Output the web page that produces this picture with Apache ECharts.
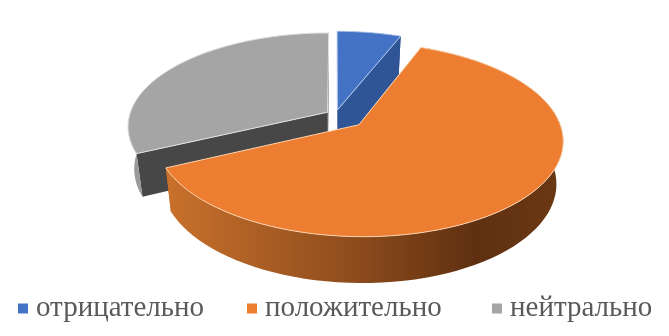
<!DOCTYPE html>
<html><head><meta charset="utf-8">
<style>html,body{margin:0;padding:0;background:#fff}#c{width:669px;height:336px}</style>
<script src="https://cdn.jsdelivr.net/npm/echarts@6/dist/echarts.min.js"></script>
</head><body><div id="c"></div>
<script>
var categories = ['отрицательно', 'положительно', 'нейтрально'];
var values = [6, 62, 32];
var colors = ['#4472c4', '#ed7d31', '#a5a5a5'];

// view of the tilted disc
var cx = 335.5, cy = 114.5, Rx = 198, Ry = 91.8, persp = 0.15, depth = 41.7, shrink = 0.03;
var explode = [0.05, 0.16, 0.047];
var legendLeft = [13, 242, 487];
var cutFill = ['#2f5597', '#ae5a21', '#474747'];
var edge = ['#bcd0f0', '#fbd3ae', '#e2e2e2'];
var wallFill = [
  '#2f5597',
  {type:'linear',x:0,y:0,x2:1,y2:0,colorStops:[{offset:0,color:'#c9712c'},{offset:0.5,color:'#8a4a1c'},{offset:0.78,color:'#5f3010'},{offset:1,color:'#6b3813'}]},
  '#9a9a9a'
];
var order = [2, 3, 1];

var total = values.reduce(function (a, b) { return a + b; }, 0);
function project(u, v, z) {
  var s = 1 / (1 + persp * v), k = 1 - shrink * z;
  return [cx + Rx * u * s * k, cy - Ry * v * s * k + depth * z * s];
}
function sliceShapes(i) {
  var before = 0;
  for (var j = 0; j < i; j++) before += values[j];
  var a0 = before / total * 2 * Math.PI, a1 = (before + values[i]) / total * 2 * Math.PI;
  var mid = (a0 + a1) / 2, ou = Math.sin(mid) * explode[i], ov = Math.cos(mid) * explode[i];
  var n = 80, rimTop = [], rimBottom = [];
  for (var t = 0; t <= n; t++) {
    var a = a0 + (a1 - a0) * t / n;
    rimTop.push(project(ou + Math.sin(a), ov + Math.cos(a), 0));
    rimBottom.push(project(ou + Math.sin(a), ov + Math.cos(a), 1));
  }
  var apexTop = project(ou, ov, 0), apexBottom = project(ou, ov, 1);
  var children = [];
  function poly(points, fill, stroke, z2) {
    children.push({
      type: 'polygon', z2: z2, silent: true,
      shape: { points: points },
      style: { fill: fill, stroke: stroke || null, lineWidth: stroke ? 1 : 0 }
    });
  }
  // cut faces
  poly([apexTop, rimTop[0], rimBottom[0], apexBottom], cutFill[i], null, order[i] * 10);
  poly([apexTop, rimTop[n], rimBottom[n], apexBottom], cutFill[i], null, order[i] * 10);
  // outer wall
  poly(rimTop.concat(rimBottom.slice().reverse()), wallFill[i], null, order[i] * 10 + 1);
  // top face
  poly([apexTop].concat(rimTop), colors[i], edge[i], order[i] * 10 + 2);
  return children;
}

var series = categories.map(function (name, i) {
  return {
    type: 'custom', name: name, coordinateSystem: 'none', silent: true,
    z: order[i],
    itemStyle: { color: colors[i] },
    data: [[values[i]]],
    renderItem: function () { return { type: 'group', children: sliceShapes(i) }; }
  };
});

var chart = echarts.init(document.getElementById('c'), null, { renderer: 'canvas' });
chart.setOption({
  animation: false,
  backgroundColor: '#fff',
  legend: categories.map(function (name, i) {
    return {
      data: [name], left: legendLeft[i], top: 289, itemWidth: 10, itemHeight: 10, icon: 'rect',
      selectedMode: false,
      textStyle: { fontFamily: 'Liberation Serif', fontSize: 29, color: '#595959', padding: [0, 0, 0, 3] }
    };
  }),
  series: series
});
</script></body></html>
